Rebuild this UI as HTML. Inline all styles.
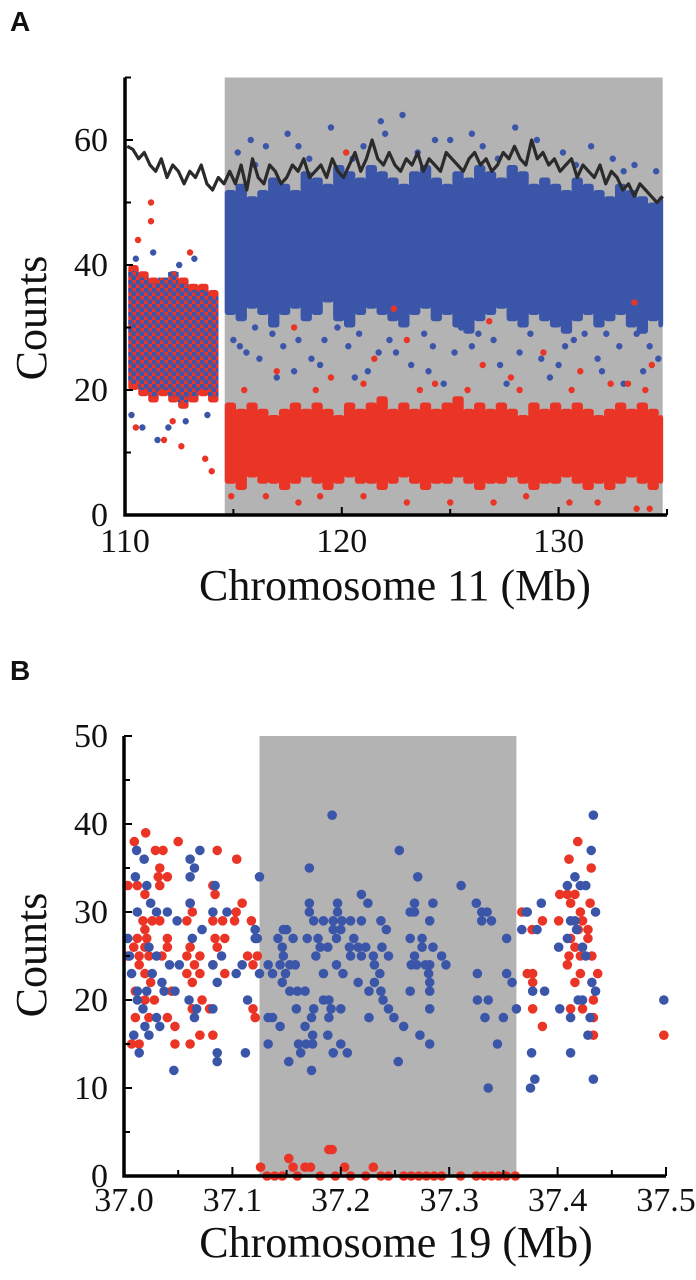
<!DOCTYPE html>
<html><head><meta charset="utf-8">
<style>
html,body{margin:0;padding:0;background:#fff;}
svg{display:block;}
.t{font-family:"Liberation Serif",serif;fill:#111;}
.p{font-family:"Liberation Sans",sans-serif;font-weight:bold;fill:#111;}
</style></head>
<body>
<svg id="fig" width="696" height="1280" viewBox="0 0 696 1280" xmlns="http://www.w3.org/2000/svg">
<defs>
<pattern id="mix" width="8" height="8" patternUnits="userSpaceOnUse">
<circle cx="2" cy="2" r="2.7" fill="#3b56a9"/><circle cx="6" cy="6" r="2.7" fill="#3b56a9"/>
</pattern>
</defs>
<text class="p" x="10" y="31" font-size="28">A</text>
<text class="p" x="10" y="680" font-size="28">B</text>
<g id="pa"></g>
<g id="pb"></g>
</svg>
<script>
// ---------- Panel A data ----------
const aYTicks=[0,20,40,60];
const aXTicks=[110,120,130];
const aShade=[114.6,134.8];
const leftStart=110.15, leftStep=0.46;
const leftRedLo=[20,19,18,19,18,17,18,19,18];
const leftRedHi=[40,39,38,38,39,38,37,37,36];
const leftBlueLo=[21,20,19,20,19,18,19,20,19];
const leftBlueHi=[39,38,37,38,39,37,36,36,35];
const grayStart=114.6, grayStep=0.5;
const blueLo=[32,31,33,32,30,32,33,31,32,34,31,30,32,33,32,31,30,32,33,31,32,30,29,31,32,33,31,30,32,31,30,29,31,32,30,31,32,30,29,31,30];
const blueHi=[52,53,51,52,54,53,52,55,54,53,56,55,54,56,55,54,53,55,56,54,53,55,54,56,55,54,56,55,53,54,53,52,54,53,52,51,53,52,51,50,51];
const redLo=[5,4,6,5,5,4,5,6,5,4,5,6,5,5,4,5,6,5,4,5,5,6,5,4,5,5,6,5,4,5,5,6,5,4,5,4,5,6,5,4,5];
const redHi=[18,17,18,17,16,17,18,17,18,17,16,18,17,18,19,17,18,17,18,17,18,19,17,18,17,18,17,16,18,17,18,17,18,17,16,17,18,17,18,17,16];
const blueOutA=[[115.2,58],[115.8,60],[116.5,59],[117.5,61],[118.5,57],[119.5,62],[121,59],[122,61],[122.8,64],[123.5,58],[125,60],[126.5,59],[128,62],[129,60],[130.2,58],[131.5,59],[132.5,57],[133.5,56],[134.5,55],[115.3,27],[116.2,25],[117,22],[118,28],[119,24],[120.3,27],[121.2,23],[122.5,26],[123.8,29],[124.7,21],[126,27],[127.3,24],[128.2,26],[129.6,22],[130.7,28],[131.8,25],[133,21],[134.2,27],[116.8,29],[119.8,30],[125.5,30],[132.2,29],[110.5,41],[111.3,42],[112.5,40],[113.2,41],[110.8,14],[111.5,12],[112.8,15],[113.8,16],[110.3,16],[112,14],
[115.0,28],[115.6,26],[116.0,30],[117.3,27],[118.6,25],[119.2,28],[120.8,29],[121.7,26],[122.2,28],[123.2,24],[124.2,27],[125.2,26],[126.3,29],[127.0,28],[128.7,29],[129.2,25],[130.3,27],[131.2,29],[132.0,23],[132.8,27],[133.6,29],[134.6,25],[117.8,23],[120.6,22],[124.0,23],[127.6,21],[130.0,24],[133.9,23],[116.0,56],[118.0,59],[120.5,57],[124.3,60],[127.2,57],[130.8,56],[133.0,55],[121.8,63],[126.0,61]];
const redOutA=[[111.2,50],[111.2,47],[110.6,44],[113,42],[111.8,12],[112.6,11],[113.7,9],[114,7],[110.5,14],[112.2,15],[117,23],[119.5,22],[121.5,25],[123,28],[124.3,21],[126.5,24],[127.8,22],[129.3,26],[131,23],[133.2,21],[134.3,24],[118,2],[121,3],[125,2],[128.5,3],[130.5,2],[133.6,1],[116.5,3],[120.2,58],[122.4,33],[126.8,31],[133.5,34],[117.8,30],
[115.5,20],[118.8,20],[121.0,21],[123.6,20],[125.8,20],[128.2,20],[130.6,20],[132.4,21],[134.0,20],[114.9,3],[119.0,3],[123.0,2],[127.0,2],[131.8,2],[134.2,1]];
const lineStart=110.1, lineEnd=134.8;
const lineVals=[59,58.5,57,58,56,55,57,54,56,55,53,55,54,56,53,52,54,53,55,53,56,52,57,54,53,56,55,53,54,56,55,57,54,55,56,54,57,55,54,56,58,55,57,60,57,56,58,56,55,57,56,58,55,57,56,55,58,57,56,55,57,58,56,57,55,56,58,57,59,57,56,60,57,58,56,57,55,56,57,54,56,55,54,56,53,55,54,52,53,51,53,52,51,50,51];

// ---------- Panel B data ----------
const bYTicks=[0,10,20,30,40,50];
const bXTicks=[37.0,37.1,37.2,37.3,37.4,37.5];
const bShade=[37.125,37.362];
const blueB=[[37.192,41],[37.433,41],[37.254,37],[37.431,37],[37.171,35],[37.125,34],[37.271,34],[37.311,33],[37.219,32],[37.225,31],[37.171,31],[37.197,31],[37.268,31],[37.285,31],[37.325,31],[37.385,31],
[37.330,30],[37.335,30],[37.264,30],[37.268,30],[37.197,30],[37.171,30],[37.435,30],[37.371,30],
[37.330,29],[37.339,29],[37.282,29],[37.175,29],[37.184,29],[37.193,29],[37.201,29],[37.209,29],[37.219,29],[37.237,29],[37.416,29],
[37.147,28],[37.150,28],[37.193,28],[37.200,28],[37.242,28],[37.367,28],[37.381,28],
[37.123,27],[37.142,27],[37.156,27],[37.169,27],[37.179,27],[37.196,27],[37.212,27],[37.264,27],[37.275,27],[37.353,27],[37.409,27],
[37.146,26],[37.181,26],[37.188,26],[37.208,26],[37.216,26],[37.223,26],[37.238,26],[37.275,26],[37.285,26],[37.401,26],[37.423,26],
[37.147,25],[37.177,25],[37.209,25],[37.219,25],[37.230,25],[37.244,25],[37.268,25],[37.293,25],
[37.133,24],[37.144,24],[37.153,24],[37.158,24],[37.196,24],[37.231,24],[37.265,24],[37.270,24],[37.278,24],[37.282,24],[37.297,24],
[37.125,23],[37.137,23],[37.149,23],[37.184,23],[37.202,23],[37.236,23],[37.281,23],[37.326,23],[37.353,23],
[37.146,22],[37.216,22],[37.231,22],[37.282,22],[37.358,22],
[37.153,21],[37.160,21],[37.167,21],[37.226,21],[37.237,21],[37.264,21],[37.282,21],[37.377,21],[37.388,21],
[37.184,20],[37.189,20],[37.239,20],[37.326,20],[37.336,20],
[37.159,19],[37.175,19],[37.191,19],[37.200,19],[37.244,19],[37.282,19],[37.362,19],[37.402,19],
[37.133,18],[37.137,18],[37.173,18],[37.189,18],[37.226,18],[37.249,18],[37.333,18],[37.350,18],
[37.144,17],[37.167,17],[37.258,17],[37.174,16],[37.188,16],[37.273,16],
[37.133,15],[37.161,15],[37.168,15],[37.174,15],[37.200,15],[37.282,15],[37.3445,15],
[37.163,14],[37.193,14],[37.206,14],[37.376,14],[37.412,14],[37.152,13],[37.253,13],[37.173,12],[37.379,11],[37.433,11],[37.336,10],[37.375,10],
[37.0116,37],[37.0186,36],[37.0105,34],[37.021,33],[37.0246,31],[37.0123,30],[37.030,30],[37.040,30],[37.049,29],[37.0035,27],[37.005,25],[37.023,26],[37.030,25],[37.042,24],[37.051,24],[37.007,23],[37.026,23],[37.035,22],[37.0123,21],[37.021,21],[37.037,21],[37.047,21],[37.0123,20],[37.0175,19],[37.030,18],[37.0193,17],[37.033,17],[37.009,16],[37.023,16],[37.014,14],[37.046,12],
[37.061,36],[37.065,35],[37.070,37],[37.061,34],[37.061,31],[37.082,30],[37.095,30],[37.072,28],[37.063,27],[37.090,25],[37.082,24],[37.1035,23],[37.086,22],[37.060,20],[37.067,19],[37.082,19],[37.065,18],[37.086,14],[37.086,13],[37.112,14],[37.114,20],[37.109,24],[37.121,27],[37.121,28],[37.084,33],
[37.372,30],[37.409,33],[37.416,34],[37.421,33],[37.426,33],[37.412,29],[37.4175,28],[37.426,25],[37.4316,22],[37.435,21],[37.419,20],[37.423,20],[37.428,16],[37.412,18],[37.430,18],[37.498,20]];
const redB=[[37.367,30],[37.3765,28],[37.386,29],[37.401,29],[37.4105,36],[37.4186,38],[37.431,35],[37.402,32],[37.409,32],[37.416,32],[37.412,31],[37.430,31],[37.421,30],[37.423,29],[37.419,28],[37.428,28],[37.412,27],[37.428,27],[37.416,26],[37.4105,25],[37.421,25],[37.4316,25],[37.372,23],[37.377,23],[37.409,24],[37.421,23],[37.437,23],[37.416,22],[37.377,22],[37.433,20],[37.412,19],[37.423,19],[37.377,19],[37.433,18],[37.386,17],[37.433,16],[37.498,16],
[37.020,39],[37.0095,38],[37.050,38],[37.029,37],[37.036,37],[37.086,37],[37.104,36],[37.033,35],[37.040,34],[37.0316,34],[37.0035,33],[37.0123,33],[37.033,33],[37.082,33],[37.084,32],[37.0193,32],[37.109,31],[37.061,31],[37.063,30],[37.1035,30],[37.0175,29],[37.026,29],[37.033,29],[37.058,29],[37.082,29],[37.091,29],[37.102,29],[37.1175,29],[37.0193,28],[37.0123,27],[37.021,27],[37.040,27],[37.084,27],[37.093,27],[37.009,26],[37.0193,26],[37.040,26],[37.061,26],[37.086,26],[37.0035,25],[37.014,25],[37.023,25],[37.035,25],[37.058,25],[37.070,25],[37.114,25],[37.123,25],[37.014,24],[37.065,24],[37.082,24],[37.119,24],[37.0193,23],[37.058,23],[37.070,23],[37.093,23],[37.0246,22],[37.063,22],[37.0105,21],[37.044,21],[37.0193,20],[37.028,20],[37.072,20],[37.119,19],[37.079,19],[37.063,19],[37.0105,18],[37.040,18],[37.023,18],[37.121,18],[37.047,17],[37.070,16],[37.082,16],[37.007,15],[37.014,15],[37.047,15],[37.061,15],
[37.126,1],[37.152,2],[37.189,3],[37.192,3],[37.2035,1],[37.230,1],[37.156,1],[37.167,1],[37.172,1],
[37.132,0],[37.139,0],[37.146,0],[37.160,0],[37.181,0],[37.195,0],[37.209,0],[37.223,0],[37.237,0],[37.244,0],[37.258,0],[37.265,0],[37.272,0],[37.279,0],[37.286,0],[37.293,0],[37.3105,0],[37.325,0],[37.332,0],[37.339,0],[37.3456,0],[37.3526,0],[37.361,0]];

const NS='http://www.w3.org/2000/svg';
function mk(parent,tag,attrs){const e=document.createElementNS(NS,tag);for(const k in attrs)e.setAttribute(k,attrs[k]);parent.appendChild(e);return e;}
const BLUE='#3b56a9', RED='#ea3426', GRAY='#b3b3b3';

// ---------- Panel A ----------
(function(){
const g=document.getElementById('pa');
const X=v=>125+(v-110)*21.68;
const Y=v=>515-v*6.25;
let r=mk(g,'rect',{x:X(aShade[0]),y:Y(70),width:X(aShade[1])-X(aShade[0]),height:Y(0)-Y(70),fill:GRAY});


for(let i=0;i<leftRedLo.length;i++){
  const x0=X(leftStart+i*leftStep);const w=X(leftStart+(i+1)*leftStep)-x0+0.5;
  let e=mk(g,'rect',{x:x0,y:Y(leftRedHi[i]),width:w,height:Y(leftRedLo[i])-Y(leftRedHi[i]),fill:RED,rx:3});
  
  
  let b=mk(g,'rect',{x:x0,y:Y(leftBlueHi[i]),width:w,height:Y(leftBlueLo[i])-Y(leftBlueHi[i]),fill:'url(#mix)'});
  
  
}
for(let i=0;i<blueLo.length;i++){
  const x0=X(grayStart+i*grayStep);const x1=Math.min(X(grayStart+(i+1)*grayStep),X(aShade[1]));
  let b=mk(g,'rect',{x:x0,y:Y(blueHi[i]),width:x1-x0+0.5,height:Y(blueLo[i])-Y(blueHi[i]),fill:BLUE,rx:3});
  
  
  let e=mk(g,'rect',{x:x0,y:Y(redHi[i]),width:x1-x0+0.5,height:Y(redLo[i])-Y(redHi[i]),fill:RED,rx:3});
  
  
}
blueOutA.forEach(p=>{const c=mk(g,'circle',{cx:X(p[0]),cy:Y(p[1]),r:3.2,fill:BLUE});
  
  });
redOutA.forEach(p=>{const c=mk(g,'circle',{cx:X(p[0]),cy:Y(p[1]),r:3.2,fill:RED});
  
  });
const step=(lineEnd-lineStart)/(lineVals.length-1);
const d=lineVals.map((v,i)=>(i?'L':'M')+X(lineStart+i*step).toFixed(1)+' '+Y(v).toFixed(1)).join(' ');
let ln=mk(g,'path',{d:d,fill:'none',stroke:'#2b2b2b','stroke-width':3.2,'stroke-linejoin':'round'});


let ax=mk(g,'path',{d:`M${X(110)} ${Y(70)} L${X(110)} ${Y(0)} L${X(135)} ${Y(0)}`,fill:'none',stroke:'#000','stroke-width':3.5});


for(let v=0;v<=70;v+=10){mk(g,'line',{x1:X(110),x2:X(110)+(v%20===0?8:6),y1:Y(v),y2:Y(v),stroke:'#000','stroke-width':2});}
for(let v=110;v<=135;v+=5){mk(g,'line',{x1:X(v),x2:X(v),y1:Y(0),y2:Y(0)-(v%10===0?8:6),stroke:'#000','stroke-width':2});}
aYTicks.forEach(v=>{const t=mk(g,'text',{x:108,y:Y(v)+11,'text-anchor':'end','font-size':34,class:'t'});t.textContent=v;
  
  });
aXTicks.forEach(v=>{const t=mk(g,'text',{x:X(v),y:552,'text-anchor':'middle','font-size':34,class:'t'});t.textContent=v;
  
  });
let xt=mk(g,'text',{x:395,y:600,'text-anchor':'middle','font-size':44,class:'t'});xt.textContent='Chromosome 11 (Mb)';


let yt=mk(g,'text',{x:0,y:0,'text-anchor':'middle','font-size':44,class:'t',transform:'translate(46,318) rotate(-90)'});yt.textContent='Counts';


})();

// ---------- Panel B ----------
(function(){
const g=document.getElementById('pb');
const X=v=>124+(v-37)*1084;
const Y=v=>1176-v*8.8;
let r=mk(g,'rect',{x:X(bShade[0]),y:Y(50),width:X(bShade[1])-X(bShade[0]),height:Y(0)-Y(50),fill:GRAY});


redB.forEach(p=>{const c=mk(g,'circle',{cx:X(p[0]),cy:Y(p[1]),r:4.8,fill:RED});
  
  });
blueB.forEach(p=>{const c=mk(g,'circle',{cx:X(p[0]),cy:Y(p[1]),r:4.8,fill:BLUE});
  
  });
let ax=mk(g,'path',{d:`M${X(37)} ${Y(50)} L${X(37)} ${Y(0)} L${X(37.5)} ${Y(0)}`,fill:'none',stroke:'#000','stroke-width':3.5});


for(let v=0;v<=50;v+=5){mk(g,'line',{x1:X(37),x2:X(37)+(v%10===0?8:6),y1:Y(v),y2:Y(v),stroke:'#000','stroke-width':2});}
for(let k=0;k<=10;k++){const v=37+k*0.05;mk(g,'line',{x1:X(v),x2:X(v),y1:Y(0),y2:Y(0)-(k%2===0?9:6),stroke:'#000','stroke-width':2});}
bYTicks.forEach(v=>{const t=mk(g,'text',{x:108,y:Y(v)+11,'text-anchor':'end','font-size':34,class:'t'});t.textContent=v;
  
  });
bXTicks.forEach(v=>{const t=mk(g,'text',{x:X(v),y:1211,'text-anchor':'middle','font-size':34,class:'t'});t.textContent=v.toFixed(1);
  
  });
let xt=mk(g,'text',{x:396,y:1257,'text-anchor':'middle','font-size':44,class:'t'});xt.textContent='Chromosome 19 (Mb)';


let yt=mk(g,'text',{x:0,y:0,'text-anchor':'middle','font-size':44,class:'t',transform:'translate(46,955) rotate(-90)'});yt.textContent='Counts';


})();
</script>
</body></html>
